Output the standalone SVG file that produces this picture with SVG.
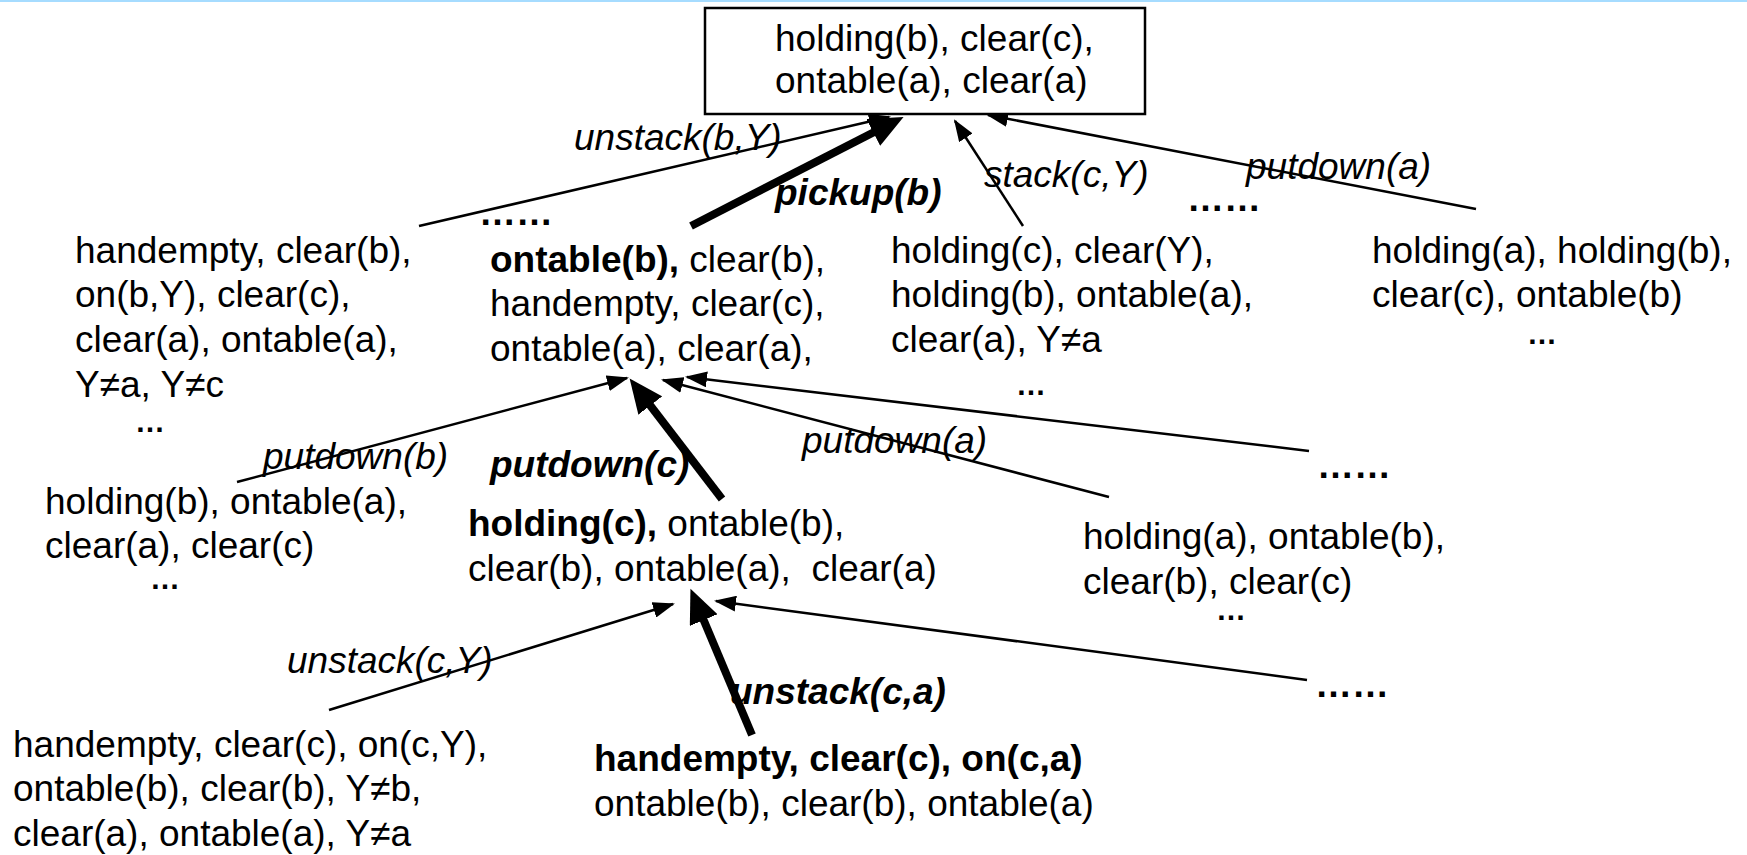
<svg xmlns="http://www.w3.org/2000/svg" width="1747" height="855" viewBox="0 0 1747 855">
  <style>
    text { font-family: "Liberation Sans", Arial, sans-serif; font-size: 37px; fill: #000; }
    .b { font-weight: bold; }
    .i { font-style: italic; }
    .bi { font-style: italic; font-weight: bold; }
    .dots { font-weight: bold; font-size: 30px; }
    .thin { stroke: #000; stroke-width: 2.5; fill: none; marker-end: url(#head); }
    .thick { stroke: #000; stroke-width: 8; fill: none; marker-end: url(#bighead); }
  </style>
  <defs>
    <marker id="head" markerUnits="userSpaceOnUse" markerWidth="24" markerHeight="16" refX="20" refY="8" orient="auto">
      <path d="M0,0 L22,8 L0,16 Z" fill="#000"/>
    </marker>
    <marker id="bighead" markerUnits="userSpaceOnUse" markerWidth="35" markerHeight="30" refX="12" refY="15" orient="auto">
      <path d="M0,0 L34,15 L0,30 Z" fill="#000"/>
    </marker>
  </defs>

  <rect x="0" y="0" width="1747" height="2" fill="#a6dcff"/>

  <!-- connectors -->
  <g id="connectors">
    <path class="thin" d="M419,226 L889,117"/>
    <path class="thick" d="M691,226 L884,127"/>
    <path class="thin" d="M1023,226 L955,121"/>
    <path class="thin" d="M1476,209 L988,115"/>
    <path class="thin" d="M237,482 L627,378"/>
    <path class="thick" d="M722,499 L643,396"/>
    <path class="thin" d="M1109,497 L663,380"/>
    <path class="thin" d="M1309,451 L687,377"/>
    <path class="thin" d="M329,710 L673,604"/>
    <path class="thick" d="M752,735 L699,609"/>
    <path class="thin" d="M1307,680 L716,601"/>
  </g>

  <!-- edge labels -->
  <g id="labels">
    <text class="i" x="574" y="150">unstack(b,Y)</text>
    <text class="bi" x="775" y="205">pickup(b)</text>
    <text class="i" x="984" y="187">stack(c,Y)</text>
    <text class="i" x="1246" y="179">putdown(a)</text>
    <text class="i" x="263" y="469">putdown(b)</text>
    <text class="bi" x="490" y="477">putdown(c)</text>
    <text class="i" x="802" y="453">putdown(a)</text>
    <text class="i" x="287" y="673">unstack(c,Y)</text>
    <text class="bi" x="730" y="704">unstack(c,a)</text>
  </g>

  <g id="goal">
    <rect x="705" y="8" width="440" height="106" fill="#fff" stroke="#000" stroke-width="2.5"/>
    <text x="775" y="51">holding(b), clear(c),</text>
    <text x="775" y="93">ontable(a), clear(a)</text>
  </g>

  <g id="s-unstack-b">
    <text x="75" y="263">handempty, clear(b),</text>
    <text x="75" y="307">on(b,Y), clear(c),</text>
    <text x="75" y="352">clear(a), ontable(a),</text>
    <text x="75" y="397">Y≠a, Y≠c</text>
    <text class="dots" x="150" y="432" text-anchor="middle">…</text>
  </g>

  <g id="more-1">
    <text class="b" x="479" y="225">……</text>
  </g>

  <g id="s-pickup-b">
    <text x="490" y="272"><tspan class="b">ontable(b),</tspan> clear(b),</text>
    <text x="490" y="316">handempty, clear(c),</text>
    <text x="490" y="361">ontable(a), clear(a),</text>
  </g>

  <g id="s-stack-c">
    <text x="891" y="263">holding(c), clear(Y),</text>
    <text x="891" y="307">holding(b), ontable(a),</text>
    <text x="891" y="352">clear(a), Y≠a</text>
    <text class="dots" x="1031" y="395" text-anchor="middle">…</text>
  </g>

  <g id="more-2">
    <text class="b" x="1187" y="211">……</text>
  </g>

  <g id="s-putdown-a">
    <text x="1372" y="263">holding(a), holding(b),</text>
    <text x="1372" y="307">clear(c), ontable(b)</text>
    <text class="dots" x="1542" y="344" text-anchor="middle">…</text>
  </g>

  <g id="s-putdown-b">
    <text x="45" y="514">holding(b), ontable(a),</text>
    <text x="45" y="558">clear(a), clear(c)</text>
    <text class="dots" x="165" y="589" text-anchor="middle">…</text>
  </g>

  <g id="s-putdown-c">
    <text x="468" y="536"><tspan class="b">holding(c),</tspan> ontable(b),</text>
    <text x="468" y="581" xml:space="preserve">clear(b), ontable(a),  clear(a)</text>
  </g>

  <g id="s-putdown-a2">
    <text x="1083" y="549">holding(a), ontable(b),</text>
    <text x="1083" y="594">clear(b), clear(c)</text>
    <text class="dots" x="1231" y="620" text-anchor="middle">…</text>
  </g>

  <g id="more-3">
    <text class="b" x="1317" y="478">……</text>
  </g>

  <g id="s-unstack-c">
    <text x="13" y="757">handempty, clear(c), on(c,Y),</text>
    <text x="13" y="801">ontable(b), clear(b), Y≠b,</text>
    <text x="13" y="846">clear(a), ontable(a), Y≠a</text>
  </g>

  <g id="s-unstack-ca">
    <text class="b" x="594" y="771">handempty, clear(c), on(c,a)</text>
    <text x="594" y="816">ontable(b), clear(b), ontable(a)</text>
  </g>

  <g id="more-4">
    <text class="b" x="1315" y="697">……</text>
  </g>
</svg>
